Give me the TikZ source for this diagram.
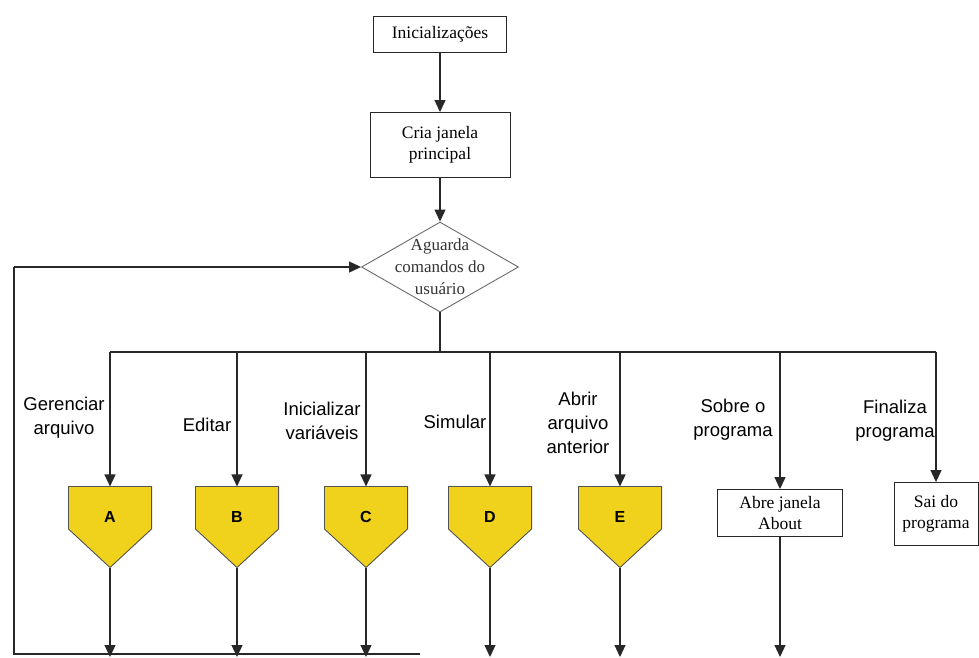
\documentclass[tikz,border=0pt]{standalone}
\usepackage{fontspec}
\setmainfont{Liberation Serif}
\newfontfamily\arialf{Liberation Sans}
\usetikzlibrary{shapes.geometric,arrows.meta,calc}
\definecolor{pentyellow}{RGB}{240,210,28}
\definecolor{linegray}{RGB}{40,40,40}
\begin{document}
\begin{tikzpicture}[x=1pt,y=-1pt,
  every path/.style={line width=1.1pt},
  conn/.style={draw=linegray,line width=1.1pt},
  arr/.style={conn,-{Triangle[length=12pt,width=11pt]}},
  procbox/.style={draw=linegray,line width=0.9pt,fill=white,align=center,font=\fontsize{17.5}{21}\selectfont,inner sep=0pt},
  pentbox/.style={minimum width=82pt,minimum height=80pt,inner sep=0pt},
  optlabel/.style={align=center,font=\arialf\fontsize{18.5}{24}\selectfont,inner sep=0pt},
  pentshape/.style={fill=pentyellow,draw=linegray!80,line width=0.9pt}
]
\useasboundingbox (0,0) rectangle (979,657);

% top chain
\node[procbox,minimum width=133pt,minimum height=36pt] (init) at (440,34) {Inicializações};
\node[procbox,minimum width=140pt,minimum height=65pt] (cria) at (440,145) {Cria janela\\principal};
\node[diamond,draw=linegray!70,line width=0.9pt,minimum width=157pt,minimum height=90pt,aspect=1.74,inner sep=0pt,
  label={[align=center,font=\fontsize{17}{22}\selectfont,text=black!80]center:Aguarda\\comandos do\\usuário}] (wait) at (440,267) {};

\draw[arr] (init.south) -- (cria.north);
\draw[arr] (cria.south) -- (wait.north);

% bus
\coordinate (busL) at (110,352);
\coordinate (busR) at (936,352);
\coordinate (busM) at (440,352);
\draw[conn] (wait.south) -- (busM);
\draw[conn] (busL) -- (busR);

% pentagons
\foreach \n/\x/\t in {pA/110/A,pB/237/B,pC/366/C,pD/490/D,pE/620/E}{
  \node[pentbox] (\n) at (\x,527) {};
  \fill[pentshape] (\n.north west) -- (\n.north east) -- ([yshift=-2pt]\n.east) -- (\n.south) -- ([yshift=-2pt]\n.west) -- cycle;
  \node[font=\arialf\bfseries\fontsize{16}{18}\selectfont] (\n t) at ([yshift=10pt]\n.center) {\t};
}

% boxes on right
\node[procbox,minimum width=125pt,minimum height=47pt] (about) at (780,513) {Abre janela\\About};
\node[procbox,minimum width=84pt,minimum height=63pt] (sai) at (936,514) {Sai do\\programa};

% drops from bus
\foreach \n in {pA,pB,pC,pD,pE,about,sai}{
  \draw[arr] (busL -| \n.north) -- (\n.north);
}

% option labels
\node[optlabel] (lA) at (64,418) {Gerenciar\\arquivo};
\node[optlabel] (lB) at (207,425) {Editar};
\node[optlabel] (lC) at (322,421) {Inicializar\\variáveis};
\node[optlabel] (lD) at (455,422) {Simular};
\node[optlabel] (lE) at (578,423) {Abrir\\arquivo\\anterior};
\node[optlabel] (lF) at (733,420) {Sobre o\\programa};
\node[optlabel] (lG) at (895,421) {Finaliza\\programa};

% bottom arrows
\coordinate (bot) at (0,657);
\foreach \n in {pA,pB,pC,pD,pE,about}{
  \draw[arr] (\n.south) -- (bot -| \n.south);
}

% feedback loop
\coordinate (fbR) at (420,654);
\coordinate (fbL) at (14,654);
\coordinate (fbT) at (14,267);
\draw[conn] (fbR) -- (fbL) -- (fbT);
\draw[arr] (fbT) -- (wait.west);
\end{tikzpicture}
\end{document}
